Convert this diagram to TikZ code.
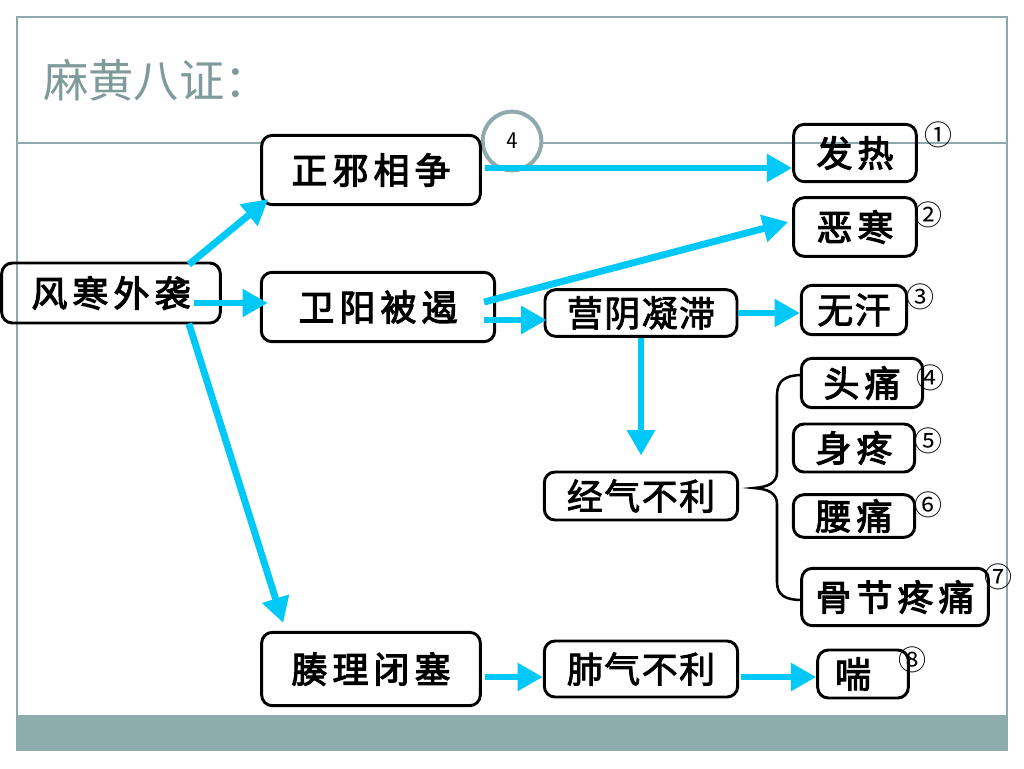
\documentclass[tikz,border=0pt]{standalone}
\usepackage{fontspec}
\setmainfont{Noto Sans CJK SC}
\newfontfamily\boxfont[FakeBold=3,LetterSpace=14]{Noto Sans CJK SC}
\newfontfamily\boxfontn[FakeBold=2.2,LetterSpace=4]{Noto Sans CJK SC}
\usetikzlibrary{arrows.meta,calc}
\definecolor{cyanA}{HTML}{00C8F8}
\definecolor{frameG}{HTML}{8FAAAA}
\definecolor{barG}{HTML}{8DADAD}
\definecolor{titleG}{HTML}{7F9A9A}
\tikzset{
  box/.style={draw=black,line width=2.2pt,rounded corners=8pt,inner sep=0pt,
    font=\fontsize{27}{30}\boxfont},
  nbox/.style={box,font=\fontsize{27}{30}\boxfontn},
  arr/.style={draw=cyanA,line width=5.2pt,-{Triangle[length=19pt,width=20pt]}},
  num/.style={font=\fontsize{21}{22}\selectfont,inner sep=0pt},
}
\begin{document}
\begin{tikzpicture}[x=0.75pt,y=-0.75pt]
\useasboundingbox (0,0) rectangle (1024,768);
% slide frame
\fill[barG] (17,715) rectangle (1007,750);
\draw[frameG,line width=1.2pt] (17,17) rectangle (1007,750);
\draw[frameG,line width=1.2pt] (17,143) -- (1007,143);
\node[anchor=west,text=titleG,font=\fontsize{34}{36}\selectfont,inner sep=0pt] (title) at (43,80) {麻黄八证：};
\node[circle,draw=frameG,fill=white,line width=3pt,minimum size=44pt,inner sep=0pt,font=\fontsize{18}{19}\selectfont\sffamily] (c4) at (512,141) {4};
% nodes
\node[box,minimum width=164pt,minimum height=45pt] (fh) at (111,293) {风寒外袭};
\node[box,fill=white,minimum width=164pt,minimum height=52pt] (zx) at (371,170) {正邪相争};
\node[box,minimum width=175pt,minimum height=52pt] (wy) at (378,307) {卫阳被遏\hspace{12pt}};
\node[nbox,minimum width=144pt,minimum height=35pt] (yy) at (641,313) {营阴凝滞};
\node[nbox,minimum width=145pt,minimum height=36pt] (jq) at (641,496) {经气不利};
\node[box,minimum width=164pt,minimum height=55pt] (cl) at (371,669) {腠理闭塞};
\node[nbox,minimum width=145pt,minimum height=42pt] (fq) at (641,669) {肺气不利};
\node[box,minimum width=68pt,minimum height=36pt,text width=54pt,align=left] (ch) at (863,674) {\hspace{6pt}喘};
\node[box,minimum width=92pt,minimum height=43pt] (fr) at (855,153) {发热};
\node[box,minimum width=92pt,minimum height=44pt] (eh) at (855,227) {恶寒};
\node[nbox,minimum width=79pt,minimum height=37pt] (wh) at (854,310) {无汗};
\node[box,minimum width=91pt,minimum height=37pt] (tt) at (862,383) {头痛};
\node[box,minimum width=91pt,minimum height=36pt] (st) at (854,448) {身疼};
\node[box,minimum width=91pt,minimum height=32pt] (yt) at (854,516) {腰痛};
\node[box,minimum width=140pt,minimum height=43pt] (gj) at (895,597) {骨节疼痛};
% circled numbers
\node[num] (n1) at (938,135) {①};
\node[num] (n2) at (928,215) {②};
\node[num] (n3) at (920,297) {③};
\node[num] (n4) at (930,378) {④};
\node[num] (n5) at (928,441) {⑤};
\node[num] (n6) at (928,505) {⑥};
\node[num] (n7) at (998,577) {⑦};
\node[num] (n8) at (912,660) {⑧};
% arrows
\draw[arr] ($(fh.north east)+(-33,3)$) -- ($(zx.south west)+(8,-7)$);
\draw[arr] ($(fh.east)+(-28,10)$) -- ($(wy.west)+(8,-4)$);
\draw[arr] ($(fh.south east)+(-33,-1)$) -- ($(cl.north west)+(23,-8)$);
\draw[arr] ($(zx.east)+(3,-2)$) -- ($(fr.west)+(0,15)$);
\draw[arr] ($(wy.east)+(-12,-5)$) -- ($(eh.west)+(-4,-5)$);
\draw[arr] ($(wy.east)+(-12,13)$) -- ($(yy.west)+(3,7)$);
\draw[arr] (yy.east) -- (yy.east -| wh.west);
\draw[arr] (yy.south) -- ($(jq.north)+(0,-15)$);
\draw[arr] ($(cl.east)+(3,8)$) -- ($(fq.west)+(0,8)$);
\draw[arr] ($(fq.east)+(2,8)$) -- ($(ch.west)+(0,3)$);
% brace
\coordinate (bt) at (802,375);
\coordinate (bb) at (802,600);
\coordinate (bm) at (754,488);
\draw[black,line width=1.9pt]
  (bt) .. controls (785,375) and (777,381) .. (777,395) -- (777,472)
  .. controls (777,483) and (768,487) .. (bm)
  .. controls (768,489) and (777,493) .. (777,504) -- (777,582)
  .. controls (777,595) and (785,600) .. (bb);
\end{tikzpicture}
\end{document}
